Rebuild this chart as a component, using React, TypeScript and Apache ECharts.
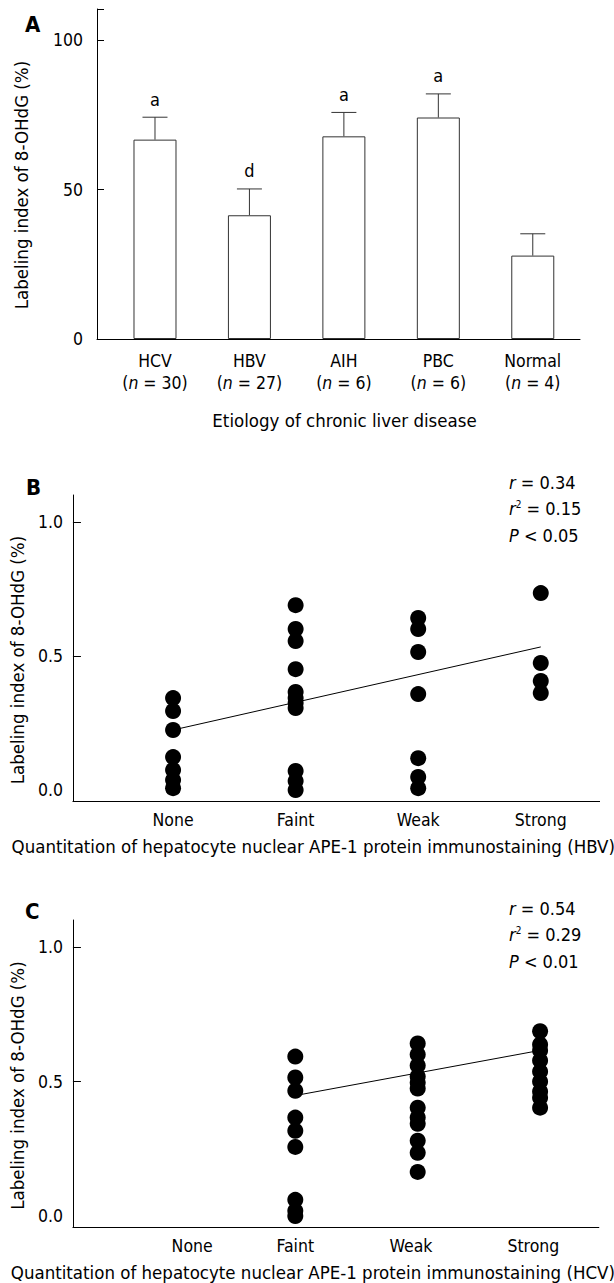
import React, { useEffect, useRef } from "react";
import * as echarts from "echarts";

// ---------- Data ----------
const etiologies = ["HCV", "HBV", "AIH", "PBC", "Normal"];
const sampleSizes = [30, 27, 6, 6, 4];
const meanIndex = [66.7, 41.4, 67.8, 74.1, 27.9];
const semIndex = [7.5, 8.8, 8.0, 7.9, 7.3];
const significance = ["a", "d", "a", "a", ""];
const barTicks = [0, 50, 100];

const stainingLevels = ["None", "Faint", "Weak", "Strong"];
const scatterTicks = [0, 0.5, 1.0];
// label anchor positions along the staining axis for each panel
const hbvLabelAt = [0, 1, 2, 3];
const hcvLabelAt = [0.157, 1, 1.945, 2.945];

// HBV panel (B)
const hbvNone = [0.343, 0.295, 0.224, 0.123, 0.075, 0.037, 0.007];
const hbvFaint = [0.69, 0.601, 0.556, 0.451, 0.366, 0.343, 0.325, 0.306, 0.071, 0.034, 0.0];
const hbvWeak = [0.642, 0.601, 0.515, 0.358, 0.119, 0.049, 0.007];
const hbvStrong = [0.735, 0.474, 0.407, 0.362];
const hbvFit = [[0, 0.224], [3, 0.534]];
const hbvStats = { r: "0.34", r2: "0.15", p: "< 0.05" };

// HCV panel (C)
const hcvNone: number[] = [];
const hcvFaint = [0.593, 0.515, 0.466, 0.366, 0.317, 0.257, 0.06, 0.019, 0.0];
const hcvWeak = [0.642, 0.601, 0.56, 0.519, 0.496, 0.474, 0.403, 0.366, 0.343, 0.28, 0.235, 0.164];
const hcvStrong = [0.687, 0.638, 0.616, 0.578, 0.537, 0.5, 0.463, 0.44, 0.403];
const hcvFit = [[1, 0.448], [3, 0.616]];
const hcvStats = { r: "0.54", r2: "0.29", p: "< 0.01" };

const FONT = '"DejaVu Sans Condensed", "DejaVu Sans", Verdana, sans-serif';
const FS = 17.5;
const FS_TITLE = 18.5;

function toPoints(groups: number[][]) {
  const out: number[][] = [];
  groups.forEach((vals, i) => vals.forEach((v) => out.push([i, v])));
  return out;
}

const baseText = { fontFamily: FONT, fontSize: FS, color: "#000", fontWeight: "normal" };
const titleText = { ...baseText, fontSize: FS_TITLE };

function statsText(s: { r: string; r2: string; p: string }) {
  return `{i|r}{t| = ${s.r}}\n{i|r}{s|2}{t| = ${s.r2}}\n{i|P}{t| ${s.p}}`;
}
const statsRich = {
  t: { ...baseText, fontSize: 18, lineHeight: 26.5 },
  i: { ...baseText, fontSize: 18, fontStyle: "italic", lineHeight: 26.5 },
  s: { ...baseText, fontSize: 10, lineHeight: 26.5, padding: [0, 0, 8, 0] },
};

function scatterXAxis(grid: number, title: string, labelAt: number[]) {
  return {
    type: "value",
    gridIndex: grid,
    min: -0.817,
    max: 3.48,
    splitLine: { show: false },
    axisTick: { show: false },
    axisLine: { show: true, onZero: false, lineStyle: { color: "#000", width: 1 } },
    axisLabel: {
      customValues: labelAt,
      formatter: (v: number) => stainingLevels[Math.round(v)] ?? "",
      margin: 10,
      ...baseText,
    },
    name: title,
    nameLocation: "middle",
    nameGap: 36,
    nameTextStyle: { ...titleText, padding: [0, 46, 0, 0] },
  };
}

function scatterYAxis(grid: number) {
  return {
    type: "value",
    gridIndex: grid,
    min: -0.041,
    max: 1.101,
    splitLine: { show: false },
    axisLine: { show: true, onZero: false, lineStyle: { color: "#000", width: 1 } },
    axisTick: { show: true, inside: true, length: 8, customValues: [0.5, 1.0], lineStyle: { color: "#000" } },
    axisLabel: {
      customValues: scatterTicks,
      formatter: (v: number) => v.toFixed(1),
      margin: 10,
      ...baseText,
    },
    name: "Labeling index of 8-OHdG (%)",
    nameLocation: "middle",
    nameGap: 38,
    nameRotate: 90,
    nameTextStyle: { ...titleText, padding: [0, 24, 0, 0] },
  };
}

export default function App() {
  const ref = useRef<HTMLDivElement>(null);

  useEffect(() => {
    if (!ref.current) return;
    const chart = echarts.init(ref.current, undefined, { renderer: "svg" });

    const letterStyle = { fontFamily: FONT, fontSize: 22, fontWeight: "bold", color: "#000" };

    const option = {
      animation: false,
      backgroundColor: "#fff",
      title: [
        { text: "A", left: 25, top: 13, padding: 0, textStyle: letterStyle },
        { text: "B", left: 26, top: 476, padding: 0, textStyle: letterStyle },
        { text: "C", left: 25, top: 900, padding: 0, textStyle: letterStyle },
        { text: statsText(hbvStats), left: 509, top: 469, padding: 0, textStyle: { ...baseText, lineHeight: 26.5, rich: statsRich } },
        { text: statsText(hcvStats), left: 509, top: 895, padding: 0, textStyle: { ...baseText, lineHeight: 26.5, rich: statsRich } },
      ],
      grid: [
        { left: 97, top: 9, width: 483, height: 330 },
        { left: 67, top: 495, width: 547, height: 306 },
        { left: 67, top: 920, width: 547, height: 307 },
      ],
      xAxis: [
        {
          type: "value",
          gridIndex: 0,
          min: -0.614,
          max: 4.5,
          splitLine: { show: false },
          axisTick: { show: false },
          axisLine: { show: true, onZero: false, lineStyle: { color: "#000", width: 1 } },
          axisLabel: {
            customValues: [0, 1, 2, 3, 4],
            margin: 11,
            formatter: (v: number) => {
              const i = Math.round(v);
              return `{t|${etiologies[i]}}\n{t|(}{i|n}{t| = ${sampleSizes[i]})}`;
            },
            rich: {
              t: { ...baseText, lineHeight: 22 },
              i: { ...baseText, fontStyle: "italic", lineHeight: 22 },
            },
          },
          name: "Etiology of chronic liver disease",
          nameLocation: "middle",
          nameGap: 72,
          nameTextStyle: { ...titleText, padding: [0, 0, 0, 12] },
        },
        scatterXAxis(1, "Quantitation of hepatocyte nuclear APE-1 protein immunostaining (HBV)", hbvLabelAt),
        scatterXAxis(2, "Quantitation of hepatocyte nuclear APE-1 protein immunostaining (HCV)", hcvLabelAt),
      ],
      yAxis: [
        {
          type: "value",
          gridIndex: 0,
          min: 0,
          max: 110.4,
          interval: 50,
          splitLine: { show: false },
          axisLine: { show: true, onZero: false, lineStyle: { color: "#000", width: 1 } },
          axisTick: { show: true, inside: true, length: 7, lineStyle: { color: "#000" } },
          axisLabel: { customValues: barTicks, margin: 14, ...baseText },
          name: "Labeling index of 8-OHdG (%)",
          nameLocation: "middle",
          nameGap: 66,
          nameRotate: 90,
          nameTextStyle: { ...titleText, padding: [0, 22, 0, 0] },
        },
        scatterYAxis(1),
        scatterYAxis(2),
      ],
      series: [
        {
          type: "bar",
          xAxisIndex: 0,
          yAxisIndex: 0,
          barWidth: 43,
          data: meanIndex.map((v, i) => [i, v]),
          itemStyle: { color: "#fff", borderColor: "#333", borderWidth: 1 },
          silent: true,
        },
        {
          type: "custom",
          xAxisIndex: 0,
          yAxisIndex: 0,
          data: meanIndex.map((v, i) => [i, v, v + semIndex[i]]),
          encode: { x: 0, y: [1, 2] },
          renderItem: (params: any, api: any) => {
            const x = api.value(0);
            const base = api.coord([x, api.value(1)]);
            const top = api.coord([x, api.value(2)]);
            const half = 12.5;
            const letter = significance[params.dataIndex];
            const style = { stroke: "#333", lineWidth: 1 };
            return {
              type: "group",
              children: [
                { type: "line", shape: { x1: base[0], y1: base[1], x2: top[0], y2: top[1] }, style },
                { type: "line", shape: { x1: top[0] - half, y1: top[1], x2: top[0] + half, y2: top[1] }, style },
                {
                  type: "text",
                  x: top[0],
                  y: top[1] - 9,
                  style: { text: letter, fontFamily: FONT, fontSize: 18, fill: "#000", align: "center", verticalAlign: "bottom" },
                },
              ],
            };
          },
          silent: true,
        },
        {
          type: "scatter",
          xAxisIndex: 1,
          yAxisIndex: 1,
          symbolSize: 16,
          data: toPoints([hbvNone, hbvFaint, hbvWeak, hbvStrong]),
          itemStyle: { color: "#000", opacity: 1 },
          silent: true,
        },
        {
          type: "line",
          xAxisIndex: 1,
          yAxisIndex: 1,
          data: hbvFit,
          symbol: "none",
          lineStyle: { color: "#000", width: 1 },
          silent: true,
        },
        {
          type: "scatter",
          xAxisIndex: 2,
          yAxisIndex: 2,
          symbolSize: 16,
          data: toPoints([hcvNone, hcvFaint, hcvWeak, hcvStrong]),
          itemStyle: { color: "#000", opacity: 1 },
          silent: true,
        },
        {
          type: "line",
          xAxisIndex: 2,
          yAxisIndex: 2,
          data: hcvFit,
          symbol: "none",
          lineStyle: { color: "#000", width: 1 },
          silent: true,
        },
      ],
    };

    chart.setOption(option as any);
    return () => chart.dispose();
  }, []);

  return (
    <div
      ref={ref}
      style={{ position: "fixed", left: 0, top: 0, width: 614, height: 1283, background: "#fff" }}
    />
  );
}
